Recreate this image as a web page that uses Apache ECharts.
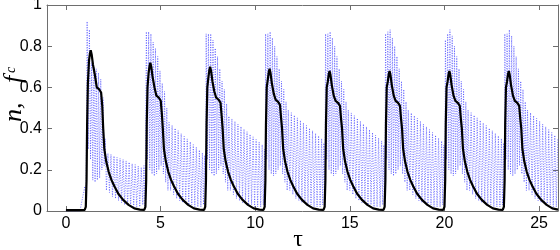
<!DOCTYPE html>
<html>
<head>
<meta charset="utf-8">
<script src="https://cdn.jsdelivr.net/npm/echarts@6/dist/echarts.min.js"></script>
<style>html,body{margin:0;padding:0;background:#fff;width:560px;height:250px;overflow:hidden;}#c{position:absolute;left:0;top:0;width:560px;height:250px;}</style>
</head>
<body>
<div id="c"></div>
<script>
// tick labels
const xTicks = [0, 5, 10, 15, 20, 25];
const yTicks = [0, 0.2, 0.4, 0.6, 0.8, 1];

// n(τ) : black solid curve, [τ, n]
const nBase = [[0,0.004],[0.7,0.004]];
const nPulse1 = [[0.99,0.005],[1.05,0.02],[1.09,0.15],[1.12,0.42],[1.16,0.62],[1.22,0.73],[1.27,0.765],[1.31,0.78],[1.36,0.76],[1.43,0.71],[1.53,0.66],[1.63,0.60],[1.76,0.59],[1.86,0.575],[1.92,0.51],[1.97,0.40],[2.03,0.30],[2.13,0.24],[2.26,0.19],[2.41,0.15],[2.56,0.12],[2.76,0.085],[3.01,0.055],[3.31,0.03],[3.61,0.013],[3.91,0.007]];
const nPulse2 = [[4.14,0.005],[4.20,0.02],[4.24,0.15],[4.27,0.42],[4.31,0.60],[4.37,0.67],[4.42,0.705],[4.46,0.72],[4.51,0.70],[4.58,0.65],[4.68,0.60],[4.78,0.56],[4.91,0.55],[5.01,0.535],[5.07,0.47],[5.12,0.40],[5.18,0.30],[5.28,0.24],[5.41,0.19],[5.56,0.15],[5.71,0.12],[5.91,0.085],[6.16,0.055],[6.46,0.03],[6.76,0.013],[7.06,0.007]];
const nPulse3 = [[7.30,0.005],[7.36,0.02],[7.40,0.15],[7.43,0.42],[7.47,0.60],[7.53,0.65],[7.58,0.685],[7.62,0.70],[7.67,0.68],[7.74,0.63],[7.84,0.58],[7.94,0.55],[8.07,0.54],[8.17,0.525],[8.23,0.46],[8.28,0.40],[8.34,0.30],[8.44,0.24],[8.57,0.19],[8.72,0.15],[8.87,0.12],[9.07,0.085],[9.32,0.055],[9.62,0.03],[9.92,0.013],[10.22,0.007]];
const nPulse4 = [[10.44,0.005],[10.50,0.02],[10.54,0.15],[10.57,0.42],[10.61,0.60],[10.67,0.64],[10.72,0.675],[10.76,0.69],[10.81,0.67],[10.88,0.62],[10.98,0.57],[11.08,0.54],[11.21,0.53],[11.31,0.515],[11.37,0.45],[11.42,0.40],[11.48,0.30],[11.58,0.24],[11.71,0.19],[11.86,0.15],[12.01,0.12],[12.21,0.085],[12.46,0.055],[12.76,0.03],[13.06,0.013],[13.36,0.007]];
const nPulse5 = [[13.61,0.005],[13.67,0.02],[13.71,0.15],[13.74,0.42],[13.78,0.60],[13.84,0.63],[13.89,0.665],[13.93,0.68],[13.98,0.66],[14.05,0.61],[14.15,0.56],[14.25,0.535],[14.38,0.525],[14.48,0.51],[14.54,0.445],[14.59,0.40],[14.65,0.30],[14.75,0.24],[14.88,0.19],[15.03,0.15],[15.18,0.12],[15.38,0.085],[15.63,0.055],[15.93,0.03],[16.23,0.013],[16.53,0.007]];
const nPulse6 = [[16.78,0.005],[16.84,0.02],[16.88,0.15],[16.91,0.42],[16.95,0.60],[17.01,0.63],[17.06,0.665],[17.10,0.68],[17.15,0.66],[17.22,0.61],[17.32,0.56],[17.42,0.535],[17.55,0.525],[17.65,0.51],[17.71,0.445],[17.76,0.40],[17.82,0.30],[17.92,0.24],[18.05,0.19],[18.20,0.15],[18.35,0.12],[18.55,0.085],[18.80,0.055],[19.10,0.03],[19.40,0.013],[19.70,0.007]];
const nPulse7 = [[19.94,0.005],[20.00,0.02],[20.04,0.15],[20.07,0.42],[20.11,0.60],[20.17,0.63],[20.22,0.665],[20.26,0.68],[20.31,0.66],[20.38,0.61],[20.48,0.56],[20.58,0.535],[20.71,0.525],[20.81,0.51],[20.87,0.445],[20.92,0.40],[20.98,0.30],[21.08,0.24],[21.21,0.19],[21.36,0.15],[21.51,0.12],[21.71,0.085],[21.96,0.055],[22.26,0.03],[22.56,0.013],[22.86,0.007]];
const nPulse8 = [[23.08,0.005],[23.14,0.02],[23.18,0.15],[23.21,0.42],[23.25,0.60],[23.31,0.63],[23.36,0.665],[23.40,0.68],[23.45,0.66],[23.52,0.61],[23.62,0.56],[23.72,0.535],[23.85,0.525],[23.95,0.51],[24.01,0.445],[24.06,0.40],[24.12,0.30],[24.22,0.24],[24.35,0.19],[24.50,0.15],[24.65,0.12],[24.85,0.085],[25.10,0.055],[25.40,0.03],[25.70,0.013],[26.0,0.007]];

// f_c(τ) : blue dotted fast oscillation, [τ, f_c]
const fcCycle1 = [[0,0],[0.74,0],[1.0,0.12],[1.06,0.04],[1.12,0.92],[1.18,0.30],[1.24,0.88],[1.30,0.25],[1.36,0.72],[1.42,0.15],[1.48,0.70],[1.54,0.14],[1.60,0.69],[1.66,0.15],[1.72,0.67],[1.78,0.16],[1.84,0.64],[1.90,0.20],[1.96,0.55],[2.02,0.22],[2.08,0.35],[2.14,0.10],[2.22,0.28],[2.30,0.09],[2.38,0.275],[2.46,0.07],[2.54,0.267],[2.62,0.06],[2.70,0.26],[2.78,0.05],[2.86,0.255],[2.94,0.04],[3.02,0.25],[3.10,0.03],[3.18,0.243],[3.26,0.03],[3.34,0.237],[3.42,0.02],[3.50,0.23],[3.58,0.02],[3.66,0.225],[3.74,0.02],[3.82,0.218],[3.90,0.02],[3.98,0.212],[4.06,0.03],[4.12,0.22],[4.18,0.02]];
const fcCycle2 = [[4.25,0.87],[4.31,0.25],[4.37,0.87],[4.43,0.20],[4.49,0.86],[4.55,0.18],[4.61,0.82],[4.67,0.17],[4.73,0.79],[4.79,0.18],[4.85,0.75],[4.91,0.20],[4.97,0.68],[5.03,0.22],[5.09,0.62],[5.15,0.18],[5.21,0.58],[5.27,0.14],[5.33,0.50],[5.39,0.10],[5.45,0.43],[5.53,0.10],[5.61,0.416],[5.69,0.08],[5.77,0.402],[5.85,0.06],[5.93,0.39],[6.01,0.05],[6.09,0.376],[6.17,0.04],[6.25,0.362],[6.33,0.04],[6.41,0.35],[6.49,0.03],[6.57,0.336],[6.65,0.03],[6.73,0.322],[6.81,0.02],[6.89,0.31],[6.97,0.02],[7.05,0.296],[7.13,0.02],[7.21,0.282],[7.27,0.03],[7.33,0.27],[7.38,0.02]];
const fcCycle3 = [[7.41,0.86],[7.47,0.25],[7.53,0.86],[7.59,0.20],[7.65,0.86],[7.71,0.18],[7.77,0.83],[7.83,0.17],[7.89,0.79],[7.95,0.18],[8.01,0.75],[8.07,0.20],[8.13,0.69],[8.19,0.22],[8.25,0.63],[8.31,0.18],[8.37,0.59],[8.43,0.14],[8.49,0.52],[8.55,0.10],[8.61,0.46],[8.69,0.10],[8.77,0.447],[8.85,0.08],[8.93,0.435],[9.01,0.06],[9.09,0.422],[9.17,0.05],[9.25,0.41],[9.33,0.04],[9.41,0.397],[9.49,0.04],[9.57,0.385],[9.65,0.03],[9.73,0.372],[9.81,0.03],[9.89,0.36],[9.97,0.02],[10.05,0.347],[10.13,0.02],[10.21,0.335],[10.29,0.02],[10.37,0.322],[10.43,0.03],[10.49,0.30],[10.53,0.02]];
const fcCycle4 = [[10.55,0.86],[10.61,0.25],[10.67,0.86],[10.73,0.20],[10.79,0.87],[10.85,0.18],[10.91,0.84],[10.97,0.17],[11.03,0.80],[11.09,0.18],[11.15,0.75],[11.21,0.20],[11.27,0.69],[11.33,0.22],[11.39,0.63],[11.45,0.18],[11.51,0.59],[11.57,0.14],[11.63,0.53],[11.69,0.10],[11.75,0.49],[11.83,0.10],[11.91,0.477],[11.99,0.08],[12.07,0.465],[12.15,0.06],[12.23,0.452],[12.31,0.05],[12.39,0.44],[12.47,0.04],[12.55,0.427],[12.63,0.04],[12.71,0.415],[12.79,0.03],[12.87,0.402],[12.95,0.03],[13.03,0.39],[13.11,0.02],[13.19,0.377],[13.27,0.02],[13.35,0.365],[13.43,0.02],[13.51,0.352],[13.57,0.03],[13.63,0.33],[13.68,0.02]];
const fcCycle5 = [[13.72,0.86],[13.78,0.25],[13.84,0.86],[13.90,0.20],[13.96,0.87],[14.02,0.18],[14.08,0.84],[14.14,0.17],[14.20,0.80],[14.26,0.18],[14.32,0.75],[14.38,0.20],[14.44,0.69],[14.50,0.22],[14.56,0.63],[14.62,0.18],[14.68,0.59],[14.74,0.14],[14.80,0.53],[14.86,0.10],[14.92,0.49],[15.00,0.10],[15.08,0.476],[15.16,0.08],[15.24,0.463],[15.32,0.06],[15.40,0.45],[15.48,0.05],[15.56,0.436],[15.64,0.04],[15.72,0.422],[15.80,0.04],[15.88,0.409],[15.96,0.03],[16.04,0.395],[16.12,0.03],[16.20,0.381],[16.28,0.02],[16.36,0.368],[16.44,0.02],[16.52,0.354],[16.60,0.02],[16.68,0.34],[16.74,0.03],[16.80,0.32],[16.85,0.02]];
const fcCycle6 = [[16.89,0.86],[16.95,0.25],[17.01,0.87],[17.07,0.20],[17.13,0.88],[17.19,0.18],[17.25,0.84],[17.31,0.17],[17.37,0.80],[17.43,0.18],[17.49,0.75],[17.55,0.20],[17.61,0.69],[17.67,0.22],[17.73,0.63],[17.79,0.18],[17.85,0.59],[17.91,0.14],[17.97,0.53],[18.03,0.10],[18.09,0.49],[18.17,0.10],[18.25,0.476],[18.33,0.08],[18.41,0.463],[18.49,0.06],[18.57,0.45],[18.65,0.05],[18.73,0.436],[18.81,0.04],[18.89,0.422],[18.97,0.04],[19.05,0.409],[19.13,0.03],[19.21,0.395],[19.29,0.03],[19.37,0.381],[19.45,0.02],[19.53,0.368],[19.61,0.02],[19.69,0.354],[19.77,0.02],[19.85,0.34],[19.91,0.03],[19.97,0.32],[20.02,0.02]];
const fcCycle7 = [[20.05,0.83],[20.11,0.25],[20.17,0.86],[20.23,0.20],[20.29,0.88],[20.35,0.18],[20.41,0.85],[20.47,0.17],[20.53,0.80],[20.59,0.18],[20.65,0.75],[20.71,0.20],[20.77,0.69],[20.83,0.22],[20.89,0.63],[20.95,0.18],[21.01,0.59],[21.07,0.14],[21.13,0.53],[21.19,0.10],[21.25,0.49],[21.33,0.10],[21.41,0.477],[21.49,0.08],[21.57,0.465],[21.65,0.06],[21.73,0.452],[21.81,0.05],[21.89,0.44],[21.97,0.04],[22.05,0.427],[22.13,0.04],[22.21,0.415],[22.29,0.03],[22.37,0.402],[22.45,0.03],[22.53,0.39],[22.61,0.02],[22.69,0.377],[22.77,0.02],[22.85,0.365],[22.93,0.02],[23.01,0.352],[23.07,0.03],[23.13,0.33],[23.17,0.02]];
const fcCycle8 = [[23.19,0.86],[23.25,0.25],[23.31,0.86],[23.37,0.20],[23.43,0.88],[23.49,0.18],[23.55,0.85],[23.61,0.17],[23.67,0.80],[23.73,0.18],[23.79,0.75],[23.85,0.20],[23.91,0.69],[23.97,0.22],[24.03,0.63],[24.09,0.18],[24.15,0.59],[24.21,0.14],[24.27,0.53],[24.33,0.10],[24.39,0.49],[24.47,0.10],[24.55,0.477],[24.63,0.08],[24.71,0.463],[24.79,0.06],[24.87,0.45],[24.95,0.05],[25.03,0.436],[25.11,0.04],[25.19,0.422],[25.27,0.04],[25.35,0.409],[25.43,0.03],[25.51,0.395],[25.59,0.03],[25.67,0.381],[25.75,0.02],[25.83,0.368],[25.91,0.02],[25.99,0.354]];

const nData = [].concat(nBase, nPulse1, nPulse2, nPulse3, nPulse4, nPulse5, nPulse6, nPulse7, nPulse8);
const fcData = [].concat(fcCycle1, fcCycle2, fcCycle3, fcCycle4, fcCycle5, fcCycle6, fcCycle7, fcCycle8);

const axisGray = '#6e6e6e';
const labelFont = { color: '#000', fontSize: 16, fontFamily: 'Liberation Sans, Arial, sans-serif' };
const serif = 'Liberation Serif, DejaVu Serif, serif';

const chart = echarts.init(document.getElementById('c'), null, { renderer: 'canvas', width: 560, height: 250 });
chart.setOption({
  animation: false,
  backgroundColor: '#fff',
  grid: { left: 47, right: 2, top: 5, bottom: 39, containLabel: false, outerBoundsMode: 'none' },
  xAxis: [
    {
      type: 'value', min: -1, max: 26, position: 'bottom',
      axisLine: { show: true, onZero: false, lineStyle: { color: axisGray, width: 1 } },
      axisTick: { show: true, inside: true, length: 5, customValues: xTicks, lineStyle: { color: axisGray } },
      axisLabel: Object.assign({ customValues: xTicks, margin: 5 }, labelFont),
      splitLine: { show: false }
    },
    {
      type: 'value', min: -1, max: 26, position: 'top',
      axisLine: { show: true, onZero: false, lineStyle: { color: axisGray, width: 1 } },
      axisTick: { show: true, inside: true, length: 5, customValues: xTicks, lineStyle: { color: axisGray } },
      axisLabel: { show: false }, splitLine: { show: false }
    }
  ],
  yAxis: [
    {
      type: 'value', min: 0, max: 1, interval: 0.2, position: 'left',
      axisLine: { show: true, onZero: false, lineStyle: { color: axisGray, width: 1 } },
      axisTick: { show: true, inside: true, length: 5, customValues: yTicks, lineStyle: { color: axisGray } },
      axisLabel: Object.assign({ customValues: yTicks, margin: 5 }, labelFont),
      splitLine: { show: false }
    },
    {
      type: 'value', min: 0, max: 1, interval: 0.2, position: 'right',
      axisLine: { show: true, onZero: false, lineStyle: { color: axisGray, width: 1 } },
      axisTick: { show: true, inside: true, length: 5, customValues: yTicks, lineStyle: { color: axisGray } },
      axisLabel: { show: false }, splitLine: { show: false }
    }
  ],
  graphic: [
    {
      type: 'text', x: 298, y: 240,
      style: { text: 'τ', fontFamily: serif, fontSize: 24, fill: '#000', align: 'center', verticalAlign: 'middle' }
    },
    {
      type: 'text', x: 14, y: 99, rotation: Math.PI / 2,
      style: { text: 'n,   f', fontFamily: serif, fontStyle: 'italic', fontSize: 26, fill: '#000', align: 'center', verticalAlign: 'middle' }
    },
    {
      type: 'text', x: 11, y: 70, rotation: Math.PI / 2,
      style: { text: 'c', fontFamily: serif, fontStyle: 'italic', fontSize: 14, fill: '#000', align: 'center', verticalAlign: 'middle' }
    }
  ],
  series: [
    {
      name: 'f_c', type: 'line', data: fcData, showSymbol: false, symbol: 'none',
      lineStyle: { color: '#4040ff', width: 1, type: [1, 1.5], opacity: 0.7 },
      z: 2, clip: true
    },
    {
      name: 'n', type: 'line', data: nData, showSymbol: false, symbol: 'none',
      lineStyle: { color: '#000', width: 2.2 },
      z: 3, clip: true
    }
  ]
});
</script>
</body>
</html>
